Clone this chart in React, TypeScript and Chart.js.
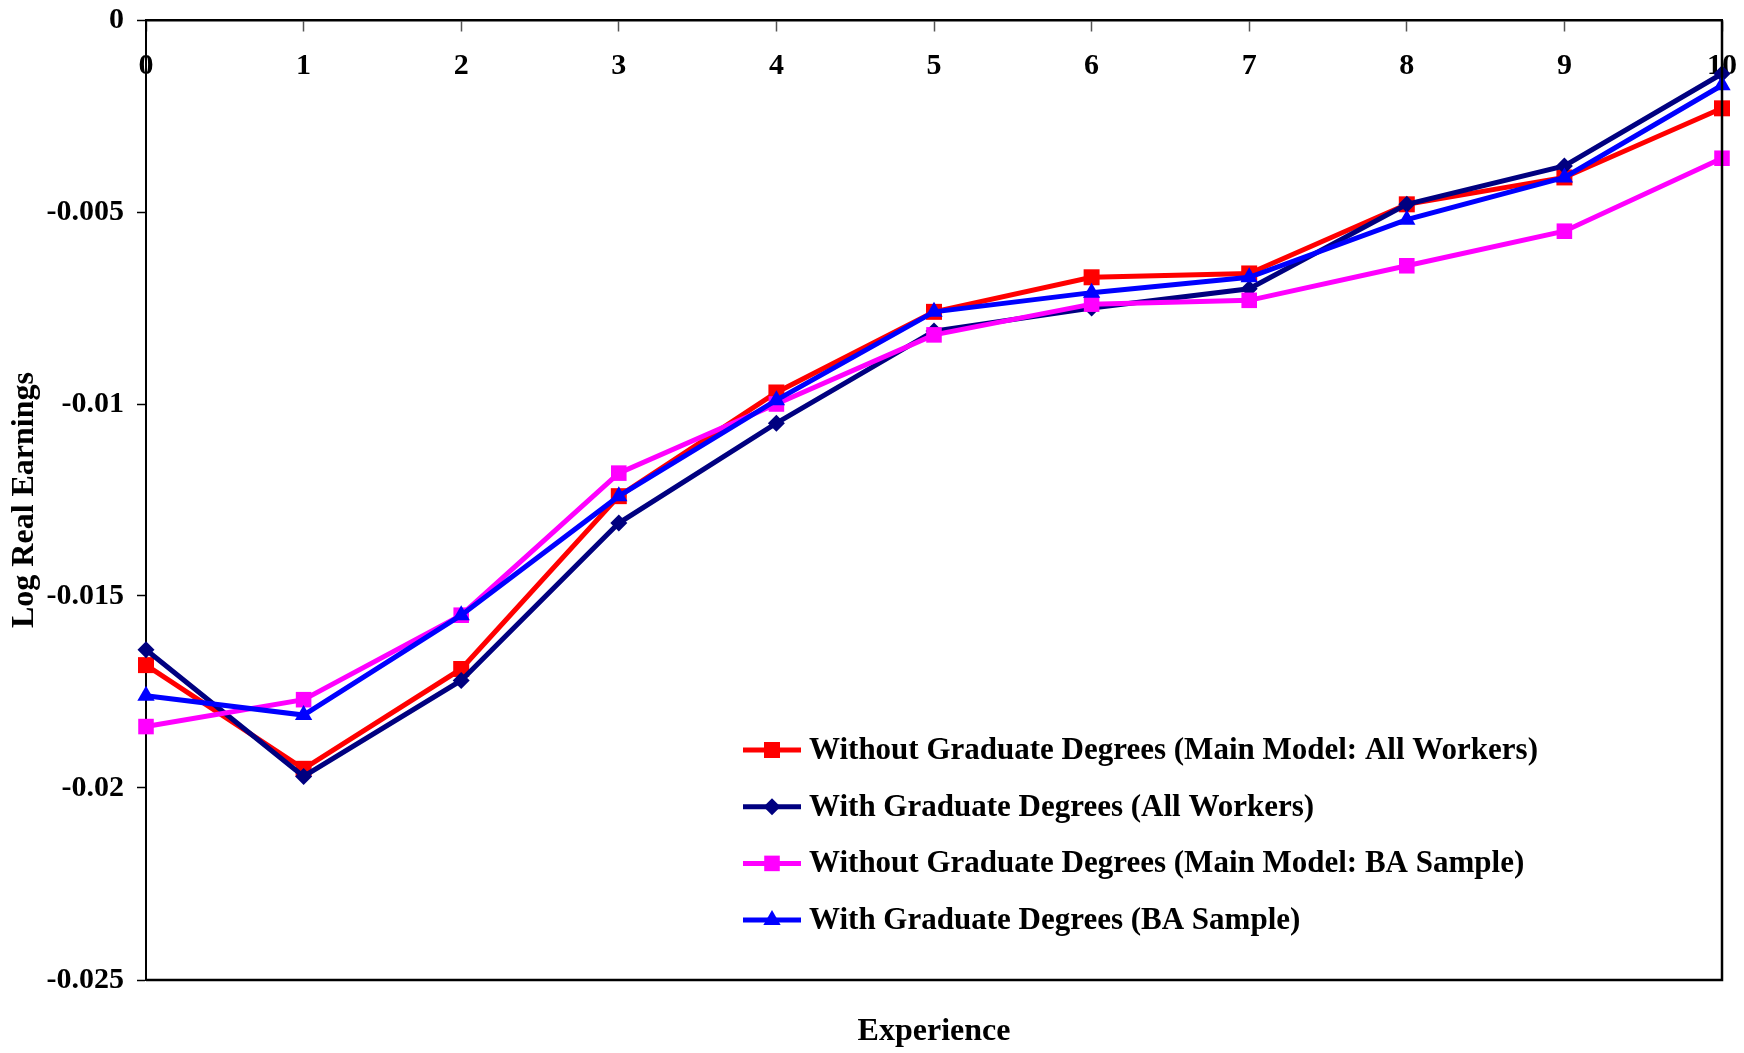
import React, { useEffect, useRef } from 'react';
import { Chart, registerables } from 'chart.js';

Chart.register(...registerables);

const experience = ['0', '1', '2', '3', '4', '5', '6', '7', '8', '9', '10'];

const withoutGradAll = [-0.0168, -0.0195, -0.0169, -0.0124, -0.0097, -0.0076, -0.0067, -0.0066, -0.0048, -0.0041, -0.0023];
const withGradAll = [-0.0164, -0.0197, -0.0172, -0.0131, -0.0105, -0.0081, -0.0075, -0.0070, -0.0048, -0.0038, -0.0014];
const withoutGradBA = [-0.0184, -0.0177, -0.0155, -0.0118, -0.0100, -0.0082, -0.0074, -0.0073, -0.0064, -0.0055, -0.0036];
const withGradBA = [-0.0176, -0.0181, -0.0155, -0.0124, -0.0099, -0.0076, -0.0071, -0.0067, -0.0052, -0.0041, -0.0017];

const seriesLabels = [
  'Without Graduate Degrees (Main Model: All Workers)',
  'With Graduate Degrees (All Workers)',
  'Without Graduate Degrees (Main Model: BA Sample)',
  'With Graduate Degrees (BA Sample)',
];

const yTickValues = [0, -0.005, -0.01, -0.015, -0.02, -0.025];
const yTickLabels = ['0', '-0.005', '-0.01', '-0.015', '-0.02', '-0.025'];

const FONT = '"Liberation Serif", "Times New Roman", serif';

function drawMarker(ctx: CanvasRenderingContext2D, style: string, x: number, y: number, r: number) {
  ctx.beginPath();
  if (style === 'rect') {
    const s = r * Math.SQRT1_2;
    ctx.rect(x - s, y - s, 2 * s, 2 * s);
  } else if (style === 'rectRot') {
    ctx.moveTo(x - r, y);
    ctx.lineTo(x, y - r);
    ctx.lineTo(x + r, y);
    ctx.lineTo(x, y + r);
    ctx.closePath();
  } else if (style === 'triangle') {
    for (let k = 0; k < 3; k++) {
      const a = (k * 2 * Math.PI) / 3;
      const px = x + Math.sin(a) * r;
      const py = y - Math.cos(a) * r;
      if (k === 0) ctx.moveTo(px, py);
      else ctx.lineTo(px, py);
    }
    ctx.closePath();
  }
  ctx.fill();
}

const frameAndLegend = {
  id: 'frameAndLegend',
  afterDraw(chart: any) {
    const { ctx, chartArea } = chart;
    ctx.save();
    // right and bottom frame
    ctx.strokeStyle = '#000';
    ctx.lineWidth = 2.5;
    ctx.beginPath();
    ctx.moveTo(chartArea.right, chartArea.top);
    ctx.lineTo(chartArea.right, chartArea.bottom);
    ctx.lineTo(chartArea.left, chartArea.bottom);
    ctx.stroke();

    // legend inside plot
    const ds = chart.data.datasets;
    ds.forEach((d: any, i: number) => {
      const y = 750 + i * 56.7;
      ctx.strokeStyle = d.borderColor;
      ctx.lineWidth = 5;
      ctx.beginPath();
      ctx.moveTo(743, y);
      ctx.lineTo(801, y);
      ctx.stroke();
      ctx.fillStyle = d.pointBackgroundColor;
      drawMarker(ctx, d.pointStyle, 772, y, d.pointRadius);
      ctx.fillStyle = '#000';
      ctx.font = `bold 31px ${FONT}`;
      ctx.textAlign = 'left';
      ctx.textBaseline = 'middle';
      ctx.fillText(d.label, 809, y + 1);
    });
    ctx.restore();
  },
};

export default function App() {
  const ref = useRef<HTMLCanvasElement | null>(null);

  useEffect(() => {
    if (!ref.current) return;
    Chart.defaults.color = '#000';
    const mk = (label: string, data: number[], color: string, style: string, r: number, order: number) => ({
      label,
      data,
      borderColor: color,
      backgroundColor: color,
      pointBackgroundColor: color,
      pointBorderColor: color,
      pointBorderWidth: 0,
      pointStyle: style,
      pointRadius: r,
      borderWidth: 5,
      tension: 0,
      fill: false,
      clip: false,
      order,
      xAxisID: 'x',
      yAxisID: 'y',
    });
    const chart = new Chart(ref.current, {
      type: 'line',
      data: {
        labels: experience,
        datasets: [
          mk(seriesLabels[0], withoutGradAll, '#FF0000', 'rect', 11.3, 4),
          mk(seriesLabels[1], withGradAll, '#000080', 'rectRot', 8.5, 3),
          mk(seriesLabels[2], withoutGradBA, '#FF00FF', 'rect', 11, 2),
          mk(seriesLabels[3], withGradBA, '#0000FF', 'triangle', 10, 1),
        ] as any,
      },
      options: {
        responsive: false,
        animation: false,
        events: [],
        layout: { padding: { top: 20, right: 22, left: 0, bottom: 0 } },
        plugins: {
          legend: { display: false },
          tooltip: { enabled: false },
        },
        scales: {
          x: {
            type: 'category',
            position: { y: 0 } as any,
            offset: false,
            grid: {
              drawOnChartArea: false,
              drawTicks: true,
              tickLength: 10,
              tickWidth: 1.5,
              tickColor: '#555',
            },
            border: { display: true, color: '#000', width: 2.5 },
            ticks: {
              autoSkip: false,
              maxRotation: 0,
              padding: 18,
              font: { family: FONT, size: 30, weight: 'bold' },
              color: '#000',
            },
            afterFit: (s: any) => {
              s.paddingLeft = 0;
              s.paddingRight = 0;
              s.paddingTop = 0;
              s.paddingBottom = 0;
            },
          },
          x2: {
            type: 'category',
            labels: experience,
            position: 'bottom',
            grid: { display: false },
            border: { display: false },
            ticks: { display: false },
            title: {
              display: true,
              text: 'Experience',
              font: { family: FONT, size: 32, weight: 'bold', lineHeight: 1.2 },
              padding: { top: 0, bottom: 2 },
              color: '#000',
            },
            afterFit: (s: any) => {
              s.height = 73;
              s.paddingLeft = 0;
              s.paddingRight = 0;
            },
          },
          y: {
            type: 'linear',
            position: 'left',
            min: -0.025,
            max: 0,
            afterBuildTicks: (s: any) => {
              s.ticks = yTickValues.map((v) => ({ value: v }));
            },
            grid: {
              drawOnChartArea: false,
              drawTicks: true,
              tickLength: 9,
              tickWidth: 1.5,
              tickColor: '#000',
            },
            border: { display: true, color: '#000', width: 2 },
            ticks: {
              padding: 13,
              font: { family: FONT, size: 30, weight: 'bold' },
              color: '#000',
              callback: (v: any) => {
                const idx = yTickValues.findIndex((t) => Math.abs(t - Number(v)) < 1e-9);
                return idx >= 0 ? yTickLabels[idx] : '';
              },
            },
            title: {
              display: true,
              text: 'Log Real Earnings',
              font: { family: FONT, size: 32, weight: 'bold', lineHeight: 1.2 },
              padding: { top: 6, bottom: 0 },
              color: '#000',
            },
            afterFit: (s: any) => {
              s.width = 146;
              s.paddingTop = 0;
              s.paddingBottom = 0;
            },
          },
        },
      },
      plugins: [frameAndLegend],
    } as any);
    return () => chart.destroy();
  }, []);

  return (
    <div style={{ position: 'absolute', left: 0, top: 0, width: 1744, height: 1053, background: '#fff' }}>
      <canvas ref={ref} width={1744} height={1053} style={{ display: 'block', width: 1744, height: 1053 }} />
    </div>
  );
}
